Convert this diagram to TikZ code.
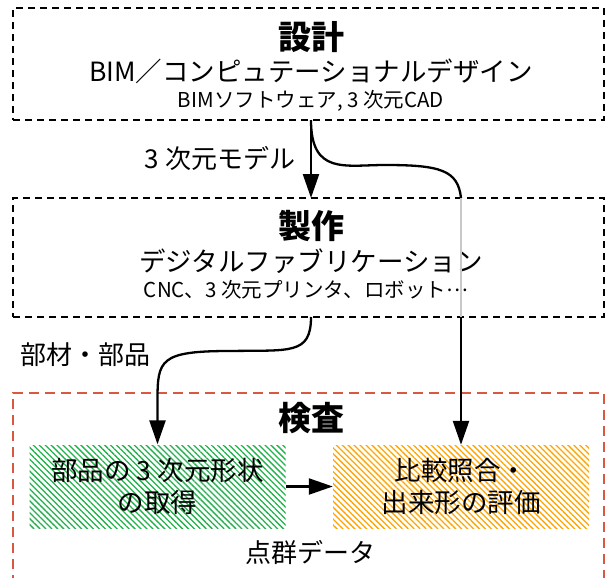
\documentclass[tikz,border=0pt]{standalone}
\usepackage{fontspec}
\setmainfont{Noto Sans CJK JP}
\usetikzlibrary{arrows.meta,patterns.meta,backgrounds}
\definecolor{redbox}{HTML}{D9583F}
\definecolor{hgreen}{HTML}{22B14C}
\definecolor{horange}{HTML}{FFA500}
\definecolor{lgray}{HTML}{C8C8C8}
\tikzset{
  dbox/.style={draw, dashed, dash pattern=on 7pt off 5pt, line width=1.5pt, fill=white, fill opacity=0.75, text opacity=1, minimum width=591pt, inner sep=0pt},
  title/.style={font=\bfseries\fontsize{33}{36}\selectfont, inner sep=0pt},
  sub/.style={font=\fontsize{26.5}{30}\selectfont, inner sep=0pt},
  subsub/.style={font=\fontsize{20.5}{24}\selectfont, inner sep=0pt},
  lbl/.style={font=\fontsize{26}{30}\selectfont, inner sep=0pt},
  hbox/.style={minimum width=256pt, minimum height=83pt, inner sep=0pt, align=center, font=\fontsize{26.5}{32}\selectfont},
  arr/.style={line width=2.3pt, -{Triangle[length=24pt,width=16pt]}},
}
\begin{document}
\begin{tikzpicture}[x=1pt,y=-1pt]
\useasboundingbox (0,0) rectangle (611,578);
% boxes
\node[dbox, minimum height=112pt] (design) at (308.5,64) {};
\node[dbox, minimum height=119pt] (fab) at (308.5,257.5) {};
\node[dbox, draw=redbox, dash pattern=on 10pt off 6pt, line width=1.8pt, fill opacity=1, minimum height=220pt, anchor=north] (insp) at (308.5,392) {};
% texts
\node[title] (t1) at (311,37) {設計};
\node[sub] (s1) at (311,71) {BIM／コンピュテーショナルデザイン};
\node[subsub] (u1) at (311,101) {BIMソフトウェア, 3 次元CAD};
\node[title] (t2) at (311,226) {製作};
\node[sub] (s2) at (311,261) {デジタルファブリケーション};
\node[subsub] (u2) at (306,290) {CNC、3 次元プリンタ、ロボット\raisebox{0.3em}{…}};
\node[title] (t3) at (311,418) {検査};
\node[lbl] (pc) at (310,552) {点群データ};
\node[hbox, pattern={Lines[angle=-45,distance=4.2pt,line width=1.3pt]}, pattern color=hgreen] (acq) at (157.5,486.5) {部品の 3 次元形状\\の取得};
\node[hbox, pattern={Lines[angle=-45,distance=4.2pt,line width=1.3pt]}, pattern color=horange] (eval) at (461,486.5) {比較照合・\\出来形の評価};
\node[lbl] (l1) at (220,158) {3 次元モデル};
\node[lbl] (l2) at (85,355) {部材・部品};
% connectors
\coordinate (d0) at (311,120);
\coordinate (f0) at (311,198);
\coordinate (f1) at (311,317);
\coordinate (w1) at (461,198);
\draw[arr] (d0) -- (f0);
\begin{scope}[on background layer]
\fill[white] (0,0) rectangle (611,578);
\draw[line width=2.3pt] (d0) .. controls (311,175) and (345,165) .. (385,165) .. controls (440,165) and (458,170) .. (w1);
\end{scope}
\draw[lgray, line width=2.3pt] (w1) -- (461,317);
\draw[arr] (461,317) -- (eval.north);
\draw[arr] (f1) .. controls (311,355) and (290,350) .. (230,351) .. controls (160,351) and (157.5,360) .. (157.5,400) -- (acq.north);
\draw[arr] (acq.east) -- (eval.west);
\end{tikzpicture}
\end{document}
